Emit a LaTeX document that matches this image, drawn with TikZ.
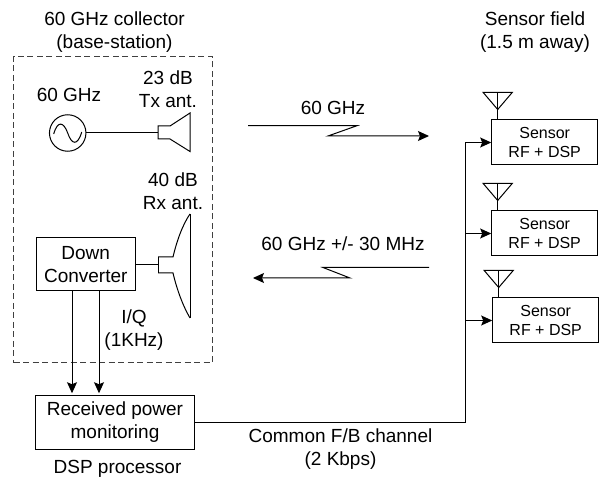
\documentclass[tikz,border=0pt]{standalone}
\usepackage{fontspec}
\setmainfont{Liberation Sans}
\usetikzlibrary{calc,positioning,arrows.meta}

\begin{document}
\begin{tikzpicture}[
                x=1pt,y=-1pt,
                line width=1pt,
                node distance=45pt,
                labeltext/.style={align=center,inner sep=0pt,font=\fontsize{19}{23.5}\selectfont},
                blockbox/.style={draw,align=center,inner sep=0pt,font=\fontsize{19}{23}\selectfont},
                sensorbox/.style={draw,align=center,inner sep=0pt,minimum width=106pt,minimum height=45pt,font=\fontsize{16}{18.5}\selectfont},
                sig/.style={-{Stealth[length=11pt,width=10pt,inset=2pt]}},
                antenna/.pic={\draw (-14.5,-27) -- (14.5,-27) -- (0,-10) -- cycle; \draw (0,-27) -- (0,0);}
            ]
                \useasboundingbox (0,0) rectangle (603,481);
                % base-station
                \node (collector) [labeltext] at (114.5,32) {60 GHz collector\\(base-station)};
                \node (frame) [draw=black!75,dashed,dash pattern=on 6pt off 3.5pt,minimum width=198.5pt,minimum height=306.5pt,inner sep=0pt] at (112.75,209.75) {};
                \node (gen) [draw,circle,minimum size=36.5pt,inner sep=0pt] at (67.7,133) {};
                \node (genlabel) [labeltext] at (69,95) {60 GHz};
                \node (txlabel) [labeltext] at (168,89) {23 dB\\Tx ant.};
                \node (rxlabel) [labeltext] at (173,191) {40 dB\\Rx ant.};
                \draw ($(gen)+(-14,1)$) .. controls ($(gen)+(-10,-13)$) and ($(gen)+(-4,-11)$) .. (gen.center)
                    .. controls ($(gen)+(4,12)$) and ($(gen)+(10,13)$) .. ($(gen)+(14,-1)$);
                % horns
                \coordinate (txneck) at (158,133);
                \coordinate (rxneck) at (158,265);
                \draw (158,126) -- (170,126) -- (190,113) -- (190,151.5) -- (170,139) -- (158,139) -- cycle;
                \draw (158,257) -- (173,257) .. controls (177,240) and (183,224) .. (190,214);
                \draw (158,273) -- (173,273) .. controls (177,290) and (183,306) .. (190,318);
                \draw (158,257) -- (158,273);
                \draw (190,214) -- (190,318);
                \draw (gen.east) -- (txneck);
                % down conversion
                \node (down) [blockbox,minimum width=99.5pt,minimum height=53.5pt] at (85.75,264.25) {Down\\Converter};
                \node (dsp) [blockbox,minimum width=158.5pt,minimum height=53.5pt] at (115,422.5) {Received power\\monitoring};
                \node (iq) [labeltext] at (134,330) {I/Q\\(1KHz)};
                \node (dsplabel) [labeltext] at (117.5,469) {DSP processor};
                \coordinate (iqA) at (72,350);
                \coordinate (iqB) at (99,350);
                \draw (down.east |- rxneck) -- (rxneck);
                \draw[sig,shorten >=2pt] (iqA |- down.south) -- (iqA |- dsp.north);
                \draw[sig,shorten >=2pt] (iqB |- down.south) -- (iqB |- dsp.north);
                % sensors
                \node (fieldlabel) [labeltext] at (535,32) {Sensor field\\(1.5 m away)};
                \node (sensorA) [sensorbox] at (544.7,142.5) {Sensor\\RF + DSP};
                \node (sensorB) [sensorbox,below=of sensorA] {Sensor\\RF + DSP};
                \node (sensorC) [sensorbox,below=41pt of sensorB,xshift=1pt] {Sensor\\RF + DSP};
                \pic at (sensorA.north -| 497.7,0) {antenna};
                \pic at (sensorB.north -| 497.7,0) {antenna};
                \pic at (sensorC.north -| 498.7,0) {antenna};
                % feedback channel
                \coordinate (bus) at (465.5,422.3);
                \node (fblabel) [labeltext] at (340.5,449) {Common F/B channel\\(2 Kbps)};
                \draw (dsp.east |- bus) -- (bus) -- (bus |- sensorA.west);
                \draw[sig] (bus |- sensorA.west) -- (sensorA.west);
                \draw[sig] (bus |- sensorB.west) -- (sensorB.west);
                \draw[sig] (bus |- sensorC.west) -- (sensorC.west);
                % wireless links
                \node (uplabel) [labeltext] at (333,108) {60 GHz};
                \node (downlabel) [labeltext] at (343,244) {60 GHz +/- 30 MHz};
                \coordinate (upA) at (248,125.7);
                \coordinate (upB) at (357,125.7);
                \coordinate (upC) at (328,136);
                \coordinate (upD) at (429,136);
                \coordinate (dnA) at (429,267.5);
                \coordinate (dnB) at (323,267.5);
                \coordinate (dnC) at (350,278);
                \coordinate (dnD) at (253,278);
                \draw[sig] (upA) -- (upB) -- (upC) -- (upD);
                \draw[sig] (dnA) -- (dnB) -- (dnC) -- (dnD);
            \end{tikzpicture}
\end{document}
